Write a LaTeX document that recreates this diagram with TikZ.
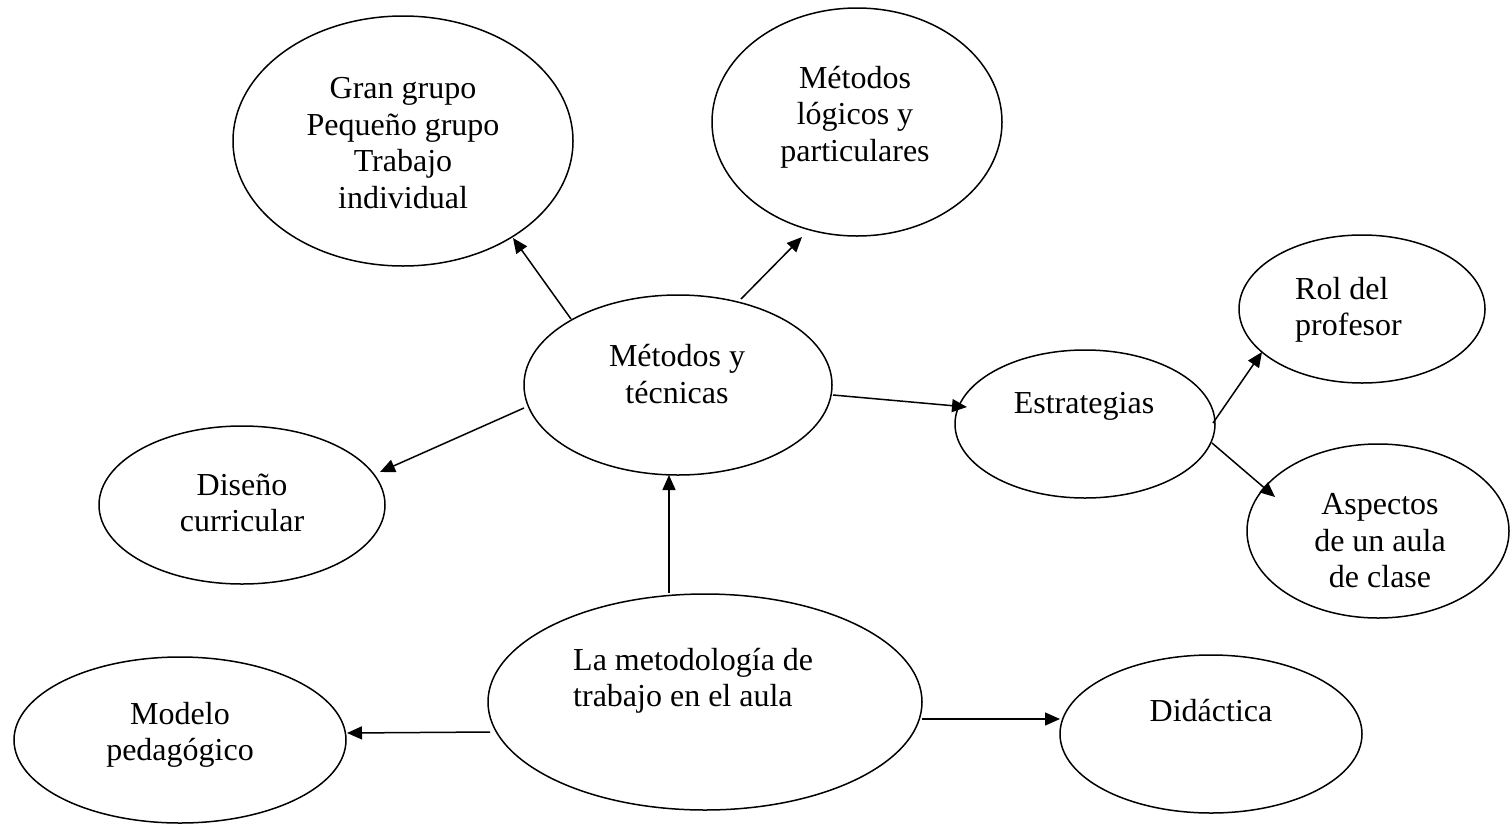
\documentclass[tikz,border=0pt]{standalone}
\usepackage{fontspec}
\setmainfont{Liberation Serif}
\usetikzlibrary{shapes.geometric,arrows.meta,calc}
\begin{document}
\begin{tikzpicture}[x=1pt,y=-1pt,
  oval/.style={draw, ellipse, line width=1.5pt, inner sep=0pt},
  lbl/.style={inner sep=0pt, font=\fontsize{32}{36.5}\selectfont, align=center},
  lbll/.style={inner sep=0pt, font=\fontsize{32}{36.5}\selectfont, align=left, anchor=west},
  arr/.style={line width=1.5pt, -{Triangle[length=15pt,width=13pt]}}]
\fill[white] (0,0) rectangle (1512,825);
\useasboundingbox (0,0) rectangle (1512,825);
% ellipses
\node[oval, minimum width=340pt, minimum height=250pt] (gg)  at (403,141) {};
\node[oval, minimum width=290pt, minimum height=228pt] (ml)  at (857,122) {};
\node[oval, minimum width=308pt, minimum height=180pt] (myt) at (678,385) {};
\node[oval, minimum width=260pt, minimum height=148pt] (est) at (1085,424) {};
\node[oval, minimum width=246pt, minimum height=148pt] (rol) at (1362,309) {};
\node[oval, minimum width=262pt, minimum height=174pt] (asp) at (1378,531) {};
\node[oval, minimum width=286pt, minimum height=158pt] (dis) at (242,505) {};
\node[oval, minimum width=434pt, minimum height=216pt] (met) at (705,702) {};
\node[oval, minimum width=332pt, minimum height=166pt] (mod) at (180,740) {};
\node[oval, minimum width=302pt, minimum height=158pt] (did) at (1211,734) {};
% texts
\node[lbl] (tgg)  at (403,143) {Gran grupo\\Pequeño grupo\\Trabajo\\individual};
\node[lbl] (tml)  at (855,117) {Métodos\\lógicos y\\particulares};
\node[lbl] (tmyt) at (677,374) {Métodos y\\técnicas};
\node[lbl] (test) at (1084,406) {Estrategias};
\node[lbll] (trol) at (1295,310) {Rol del\\profesor};
\node[lbl] (tasp) at (1380,541) {Aspectos\\de un aula\\de clase};
\node[lbl] (tdis) at (242,503) {Diseño\\curricular};
\node[lbll] (tmet) at (573,681) {La metodología de\\trabajo en el aula};
\node[lbl] (tmod) at (180,735) {Modelo\\pedagógico};
\node[lbl] (tdid) at (1211,711) {Didáctica};
% connectors
\draw[arr] ($(myt)+(-107,-66)$) -- ($(gg)+(110,97)$);
\draw[arr] ($(myt)+(63,-86)$) -- ($(ml)+(-55,115)$);
\draw[arr] ($(myt)+(155,10)$) -- ($(est)+(-118,-17)$);
\draw[arr] ($(myt)+(-154,23)$) -- ($(dis)+(138,-33)$);
\draw[arr] ($(met)+(-36,-109)$) -- ($(myt)+(-9,90)$);
\draw[arr] ($(met)+(-215,30)$) -- ($(mod)+(167,-7)$);
\draw[arr] ($(met)+(217,17)$) -- ($(did)+(-151,-15)$);
\draw[arr] ($(est)+(128,-1)$) -- ($(rol)+(-100,43)$);
\draw[arr] ($(est)+(127,19)$) -- ($(asp)+(-103,-34)$);
\end{tikzpicture}
\end{document}
